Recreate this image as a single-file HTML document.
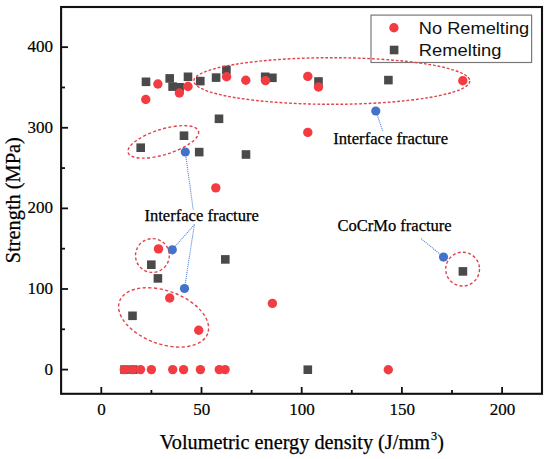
<!DOCTYPE html>
<html><head><meta charset="utf-8"><style>
html,body{margin:0;padding:0;background:#fff;}
body{width:550px;height:459px;overflow:hidden;position:relative;}
svg{position:absolute;left:0;top:0;}
</style></head><body>
<svg width="550" height="459" viewBox="0 0 550 459">
<rect width="550" height="459" fill="#fff"/>
<line x1="185.4" y1="153" x2="193.2" y2="209.5" stroke="#5a88d6" stroke-width="1.1" stroke-dasharray="1.1 0.9"/>
<line x1="194.4" y1="224.6" x2="172.3" y2="249.8" stroke="#5a88d6" stroke-width="1.1" stroke-dasharray="1.1 0.9"/>
<line x1="194.4" y1="224.6" x2="184.5" y2="288.5" stroke="#5a88d6" stroke-width="1.1" stroke-dasharray="1.1 0.9"/>
<line x1="375.8" y1="111" x2="382.7" y2="130.8" stroke="#5a88d6" stroke-width="1.1" stroke-dasharray="1.1 0.9"/>
<line x1="443.5" y1="257.1" x2="420.6" y2="238.2" stroke="#5a88d6" stroke-width="1.1" stroke-dasharray="1.1 0.9"/>
<rect x="141.70" y="77.50" width="8.6" height="8.6" fill="#4a4a4a"/>
<rect x="165.40" y="74.10" width="8.6" height="8.6" fill="#4a4a4a"/>
<rect x="168.30" y="82.30" width="8.6" height="8.6" fill="#4a4a4a"/>
<rect x="175.30" y="83.00" width="8.6" height="8.6" fill="#4a4a4a"/>
<rect x="183.70" y="72.50" width="8.6" height="8.6" fill="#4a4a4a"/>
<rect x="196.00" y="76.80" width="8.6" height="8.6" fill="#4a4a4a"/>
<rect x="211.80" y="73.30" width="8.6" height="8.6" fill="#4a4a4a"/>
<rect x="222.10" y="65.70" width="8.6" height="8.6" fill="#4a4a4a"/>
<rect x="260.90" y="72.50" width="8.6" height="8.6" fill="#4a4a4a"/>
<rect x="268.10" y="73.50" width="8.6" height="8.6" fill="#4a4a4a"/>
<rect x="314.20" y="77.20" width="8.6" height="8.6" fill="#4a4a4a"/>
<rect x="384.10" y="75.80" width="8.6" height="8.6" fill="#4a4a4a"/>
<rect x="136.40" y="143.40" width="8.6" height="8.6" fill="#4a4a4a"/>
<rect x="179.70" y="131.40" width="8.6" height="8.6" fill="#4a4a4a"/>
<rect x="194.90" y="147.80" width="8.6" height="8.6" fill="#4a4a4a"/>
<rect x="214.70" y="114.50" width="8.6" height="8.6" fill="#4a4a4a"/>
<rect x="241.70" y="150.20" width="8.6" height="8.6" fill="#4a4a4a"/>
<rect x="221.00" y="255.10" width="8.6" height="8.6" fill="#4a4a4a"/>
<rect x="147.00" y="260.40" width="8.6" height="8.6" fill="#4a4a4a"/>
<rect x="153.60" y="274.10" width="8.6" height="8.6" fill="#4a4a4a"/>
<rect x="128.20" y="311.50" width="8.6" height="8.6" fill="#4a4a4a"/>
<rect x="120.20" y="365.30" width="8.6" height="8.6" fill="#4a4a4a"/>
<rect x="128.90" y="365.30" width="8.6" height="8.6" fill="#4a4a4a"/>
<rect x="303.50" y="365.40" width="8.6" height="8.6" fill="#4a4a4a"/>
<rect x="458.60" y="267.10" width="8.6" height="8.6" fill="#4a4a4a"/>
<circle cx="145.8" cy="99.5" r="4.7" fill="#f33c42"/>
<circle cx="157.9" cy="84" r="4.7" fill="#f33c42"/>
<circle cx="179.4" cy="93" r="4.7" fill="#f33c42"/>
<circle cx="188" cy="86.5" r="4.7" fill="#f33c42"/>
<circle cx="226.6" cy="76.8" r="4.7" fill="#f33c42"/>
<circle cx="245.8" cy="80.2" r="4.7" fill="#f33c42"/>
<circle cx="265.5" cy="80.6" r="4.7" fill="#f33c42"/>
<circle cx="307.8" cy="76.4" r="4.7" fill="#f33c42"/>
<circle cx="318.5" cy="87" r="4.7" fill="#f33c42"/>
<circle cx="462.8" cy="80.8" r="4.7" fill="#f33c42"/>
<circle cx="307.8" cy="132.4" r="4.7" fill="#f33c42"/>
<circle cx="215.8" cy="187.9" r="4.7" fill="#f33c42"/>
<circle cx="158.5" cy="248.9" r="4.7" fill="#f33c42"/>
<circle cx="169.7" cy="298" r="4.7" fill="#f33c42"/>
<circle cx="198.7" cy="330.3" r="4.7" fill="#f33c42"/>
<circle cx="272.4" cy="303.4" r="4.7" fill="#f33c42"/>
<circle cx="124.3" cy="369.6" r="4.7" fill="#f33c42"/>
<circle cx="132.5" cy="369.6" r="4.7" fill="#f33c42"/>
<circle cx="140.5" cy="369.6" r="4.7" fill="#f33c42"/>
<circle cx="151.4" cy="369.6" r="4.7" fill="#f33c42"/>
<circle cx="172.7" cy="369.6" r="4.7" fill="#f33c42"/>
<circle cx="183.6" cy="369.6" r="4.7" fill="#f33c42"/>
<circle cx="200.4" cy="369.6" r="4.7" fill="#f33c42"/>
<circle cx="219.3" cy="369.6" r="4.7" fill="#f33c42"/>
<circle cx="225.1" cy="369.6" r="4.7" fill="#f33c42"/>
<circle cx="388.3" cy="369.7" r="4.7" fill="#f33c42"/>
<circle cx="185.3" cy="152" r="4.6" fill="#4372cb"/>
<circle cx="172.3" cy="249.8" r="4.6" fill="#4372cb"/>
<circle cx="184.5" cy="288.5" r="4.6" fill="#4372cb"/>
<circle cx="375.8" cy="111" r="4.6" fill="#4372cb"/>
<circle cx="443.5" cy="257.1" r="4.6" fill="#4372cb"/>
<rect x="371" y="15.1" width="160.6" height="47.4" fill="#fff" stroke="#7a7a7a" stroke-width="1.2"/>
<circle cx="393.9" cy="27.7" r="4.7" fill="#f33c42"/>
<rect x="389.80" y="45.70" width="8.6" height="8.6" fill="#4a4a4a"/>
<text x="418.85" y="34.2" font-family="Liberation Sans" font-size="17.4" fill="#111" textLength="110.4" lengthAdjust="spacingAndGlyphs">No Remelting</text>
<text x="418.85" y="56.4" font-family="Liberation Sans" font-size="17.4" fill="#111" textLength="82.66" lengthAdjust="spacingAndGlyphs">Remelting</text>
<g fill="none" stroke="#e0434a" stroke-width="1.4">
<ellipse cx="331.8" cy="81.0" rx="138.0" ry="23.3" stroke-dasharray="2.8 1.9"/>
<ellipse cx="163.3" cy="141.9" rx="36.8" ry="12.7" transform="rotate(-17.1 163.3 141.9)" stroke-dasharray="3 2.3"/>
<ellipse cx="152.4" cy="255.5" rx="16.9" ry="16.9" stroke-dasharray="3 2.3"/>
<ellipse cx="163.6" cy="317.4" rx="46.9" ry="26.6" transform="rotate(20 163.6 317.4)" stroke-dasharray="3.2 2.4"/>
<ellipse cx="462.6" cy="269.1" rx="16.9" ry="16.9" stroke-dasharray="3 2.3"/>
</g>
<rect x="61.1" y="7" width="480.9" height="386.8" fill="none" stroke="#111" stroke-width="2.1"/>
<line x1="101.3" y1="394" x2="101.3" y2="387" stroke="#111" stroke-width="1.8"/>
<text x="101.60" y="414.6" text-anchor="middle" font-family="Liberation Serif" font-size="17" fill="#000" stroke="#000" stroke-width="0.2">0</text>
<line x1="201.5" y1="394" x2="201.5" y2="387" stroke="#111" stroke-width="1.8"/>
<text x="201.80" y="414.6" text-anchor="middle" font-family="Liberation Serif" font-size="17" fill="#000" stroke="#000" stroke-width="0.2">50</text>
<line x1="301.7" y1="394" x2="301.7" y2="387" stroke="#111" stroke-width="1.8"/>
<text x="302.00" y="414.6" text-anchor="middle" font-family="Liberation Serif" font-size="17" fill="#000" stroke="#000" stroke-width="0.2">100</text>
<line x1="401.90000000000003" y1="394" x2="401.90000000000003" y2="387" stroke="#111" stroke-width="1.8"/>
<text x="402.20" y="414.6" text-anchor="middle" font-family="Liberation Serif" font-size="17" fill="#000" stroke="#000" stroke-width="0.2">150</text>
<line x1="502.1" y1="394" x2="502.1" y2="387" stroke="#111" stroke-width="1.8"/>
<text x="502.40" y="414.6" text-anchor="middle" font-family="Liberation Serif" font-size="17" fill="#000" stroke="#000" stroke-width="0.2">200</text>
<line x1="151.4" y1="394" x2="151.4" y2="390" stroke="#111" stroke-width="1.8"/>
<line x1="251.60000000000002" y1="394" x2="251.60000000000002" y2="390" stroke="#111" stroke-width="1.8"/>
<line x1="351.8" y1="394" x2="351.8" y2="390" stroke="#111" stroke-width="1.8"/>
<line x1="452.0" y1="394" x2="452.0" y2="390" stroke="#111" stroke-width="1.8"/>
<line x1="61" y1="369.60" x2="68" y2="369.60" stroke="#111" stroke-width="1.8"/>
<text x="53.0" y="374.50" text-anchor="end" font-family="Liberation Serif" font-size="17" fill="#000" stroke="#000" stroke-width="0.2">0</text>
<line x1="61" y1="288.99" x2="68" y2="288.99" stroke="#111" stroke-width="1.8"/>
<text x="53.0" y="293.89" text-anchor="end" font-family="Liberation Serif" font-size="17" fill="#000" stroke="#000" stroke-width="0.2">100</text>
<line x1="61" y1="208.38" x2="68" y2="208.38" stroke="#111" stroke-width="1.8"/>
<text x="53.0" y="213.28" text-anchor="end" font-family="Liberation Serif" font-size="17" fill="#000" stroke="#000" stroke-width="0.2">200</text>
<line x1="61" y1="127.77" x2="68" y2="127.77" stroke="#111" stroke-width="1.8"/>
<text x="53.0" y="132.67" text-anchor="end" font-family="Liberation Serif" font-size="17" fill="#000" stroke="#000" stroke-width="0.2">300</text>
<line x1="61" y1="47.16" x2="68" y2="47.16" stroke="#111" stroke-width="1.8"/>
<text x="53.0" y="52.06" text-anchor="end" font-family="Liberation Serif" font-size="17" fill="#000" stroke="#000" stroke-width="0.2">400</text>
<line x1="61" y1="329.30" x2="65" y2="329.30" stroke="#111" stroke-width="1.8"/>
<line x1="61" y1="248.69" x2="65" y2="248.69" stroke="#111" stroke-width="1.8"/>
<line x1="61" y1="168.08" x2="65" y2="168.08" stroke="#111" stroke-width="1.8"/>
<line x1="61" y1="87.47" x2="65" y2="87.47" stroke="#111" stroke-width="1.8"/>
<g font-family="Liberation Serif" fill="#000" stroke="#000" stroke-width="0.25">
<text x="144.5" y="220.8" font-size="16.3" textLength="114.3" lengthAdjust="spacingAndGlyphs">Interface fracture</text>
<text x="333.3" y="143.5" font-size="16.3" textLength="114.7" lengthAdjust="spacingAndGlyphs">Interface fracture</text>
<text x="337.5" y="230.5" font-size="16.3" textLength="114.2" lengthAdjust="spacingAndGlyphs">CoCrMo fracture</text>
<text x="159.75" y="448.7" font-size="20" textLength="270.2" lengthAdjust="spacingAndGlyphs">Volumetric energy density (J/mm</text>
<text x="430.9" y="440.2" font-size="12.2">3</text>
<text x="437.3" y="448.7" font-size="20">)</text>
<text transform="translate(19.8 263.2) rotate(-90)" x="0" y="0" font-size="20" textLength="126.0" lengthAdjust="spacingAndGlyphs">Strength (MPa)</text>
</g>
</svg>
</body></html>
